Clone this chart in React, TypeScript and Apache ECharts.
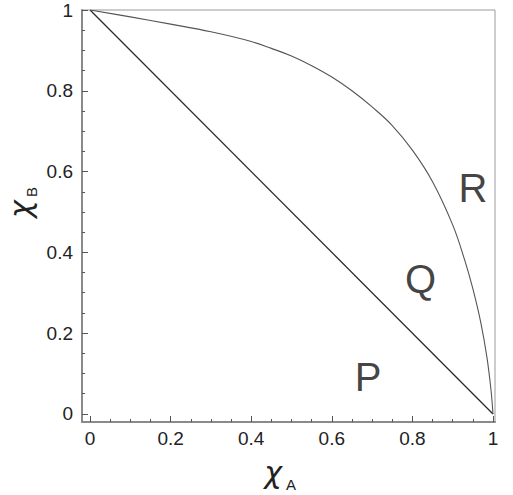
import React, { useEffect, useRef } from "react";
import * as echarts from "echarts";

// Curve (boundary between Q and R)
const curveX = [0, 0.1, 0.2, 0.3, 0.4, 0.45, 0.5, 0.55, 0.6, 0.65, 0.7, 0.75, 0.8, 0.85, 0.9, 0.93, 0.95, 0.97, 0.985, 0.995, 1];
const curveY = [1, 0.983, 0.965, 0.946, 0.922, 0.905, 0.886, 0.862, 0.834, 0.8, 0.76, 0.714, 0.653, 0.575, 0.468, 0.38, 0.31, 0.225, 0.14, 0.06, 0];

// Straight line (boundary between P and Q)
const lineX = [0, 1];
const lineY = [1, 0];

// Region labels
const regionNames = ["P", "Q", "R"];
const regionX = [0.69, 0.82, 0.95];
const regionY = [0.092, 0.335, 0.56];

// Ticks
const majorTicks = [0, 0.2, 0.4, 0.6, 0.8, 1];
const minorTicks = [0.05, 0.1, 0.15, 0.25, 0.3, 0.35, 0.45, 0.5, 0.55, 0.65, 0.7, 0.75, 0.85, 0.9, 0.95];
const tickLabels = ["0", "0.2", "0.4", "0.6", "0.8", "1"];

const axisColor = "#8a8a8a";
const font = "Liberation Sans, Arial, sans-serif";
const greekFont = "DejaVu Sans, sans-serif";

export default function App() {
  const ref = useRef<HTMLDivElement>(null);
  useEffect(() => {
    if (!ref.current) return;
    const chart = echarts.init(ref.current, null, { renderer: "svg" });
    const labelMap = (v: number) => {
      const i = majorTicks.findIndex((t) => Math.abs(t - v) < 1e-9);
      return i >= 0 ? tickLabels[i] : "";
    };
    const baseX = {
      type: "value" as const,
      min: -0.02,
      max: 1.005,
      gridIndex: 0,
      position: "bottom" as const,
      splitLine: { show: false },
    };
    const baseY = {
      type: "value" as const,
      min: -0.02,
      max: 1,
      gridIndex: 0,
      position: "left" as const,
      splitLine: { show: false },
    };
    chart.setOption({
      animation: false,
      backgroundColor: "#ffffff",
      grid: {
        left: 82,
        right: 18,
        top: 10,
        bottom: 73,
        show: true,
        borderColor: "#9a9a9a",
        borderWidth: 1,
        backgroundColor: "transparent",
      },
      xAxis: [
        {
          ...baseX,
          axisLine: { show: true, onZero: false, lineStyle: { color: axisColor, width: 2 } },
          axisTick: { show: true, inside: true, length: 6, customValues: majorTicks, lineStyle: { color: "#555", width: 1 } },
          axisLabel: {
            show: true,
            customValues: majorTicks,
            formatter: labelMap,
            margin: 7,
            color: "#222",
            fontSize: 19,
            fontFamily: font,
          },
        },
        {
          ...baseX,
          axisLine: { show: false, onZero: false },
          axisTick: { show: true, inside: true, length: 3, customValues: minorTicks, lineStyle: { color: "#555", width: 1 } },
          axisLabel: { show: false },
        },
      ],
      yAxis: [
        {
          ...baseY,
          axisLine: { show: true, onZero: false, lineStyle: { color: axisColor, width: 2 } },
          axisTick: { show: true, inside: true, length: 6, customValues: majorTicks, lineStyle: { color: "#555", width: 1 } },
          axisLabel: {
            show: true,
            customValues: majorTicks,
            formatter: labelMap,
            margin: 9,
            color: "#222",
            fontSize: 19,
            fontFamily: font,
          },
        },
        {
          ...baseY,
          axisLine: { show: false, onZero: false },
          axisTick: { show: true, inside: true, length: 3, customValues: minorTicks, lineStyle: { color: "#555", width: 1 } },
          axisLabel: { show: false },
        },
      ],
      series: [
        {
          type: "line",
          xAxisIndex: 0,
          yAxisIndex: 0,
          data: lineX.map((x, i) => [x, lineY[i]]),
          showSymbol: false,
          symbol: "none",
          lineStyle: { color: "#2a2a2a", width: 1.3 },
          z: 3,
        },
        {
          type: "line",
          xAxisIndex: 0,
          yAxisIndex: 0,
          data: curveX.map((x, i) => [x, curveY[i]]),
          showSymbol: false,
          symbol: "none",
          smooth: 0.4,
          lineStyle: { color: "#555", width: 1.1 },
          z: 3,
        },
        {
          type: "scatter",
          xAxisIndex: 0,
          yAxisIndex: 0,
          symbolSize: 0,
          data: regionNames.map((n, i) => ({ name: n, value: [regionX[i], regionY[i]] })),
          label: {
            show: true,
            position: "inside",
            formatter: (p: any) => p.name,
            fontSize: 40,
            fontFamily: font,
            color: "#111",
          },
          z: 4,
        },
      ],
      graphic: [
        {
          type: "text",
          x: 273,
          y: 472,
          style: { text: "χ", fontSize: 30, fontStyle: "italic", fontFamily: greekFont, fill: "#222", align: "center", verticalAlign: "middle" },
        },
        {
          type: "text",
          x: 291,
          y: 484,
          style: { text: "A", fontSize: 15, fontFamily: font, fill: "#222", align: "center", verticalAlign: "middle" },
        },
        {
          type: "text",
          x: 20,
          y: 209,
          rotation: Math.PI / 2,
          style: { text: "χ", fontSize: 30, fontStyle: "italic", fontFamily: greekFont, fill: "#222", align: "center", verticalAlign: "middle" },
        },
        {
          type: "text",
          x: 31,
          y: 192,
          rotation: Math.PI / 2,
          style: { text: "B", fontSize: 15, fontFamily: font, fill: "#222", align: "center", verticalAlign: "middle" },
        },
      ],
    });
    return () => chart.dispose();
  }, []);
  return <div ref={ref} style={{ width: 513, height: 495, position: "absolute", left: 0, top: 0 }} />;
}
